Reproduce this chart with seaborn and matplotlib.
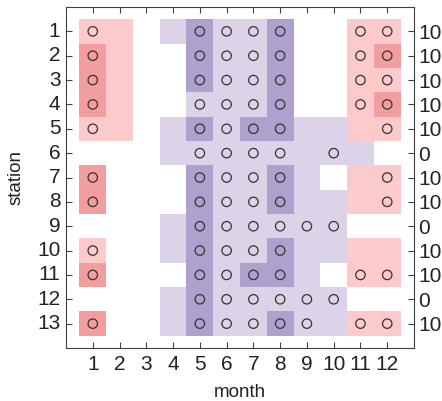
import numpy as np
import pandas as pd
import matplotlib
matplotlib.use("Agg")
import matplotlib.pyplot as plt
import seaborn as sns
from matplotlib.colors import ListedColormap

months = list(range(1, 13))
stations = list(range(1, 14))

# -2 dark pink, -1 light pink, 0 white, 1 light purple, 2 dark purple
levels = [
    [-1, -1, 0, 1, 2, 1, 1, 2, 0, 0, -1, -1],
    [-2, -1, 0, 0, 2, 1, 1, 2, 0, 0, -1, -2],
    [-2, -1, 0, 0, 2, 1, 1, 2, 0, 0, -1, -1],
    [-2, -1, 0, 0, 1, 1, 1, 2, 0, 0, -1, -2],
    [-1, -1, 0, 1, 2, 1, 2, 2, 1, 1, -1, -1],
    [0, 0, 0, 1, 1, 1, 1, 1, 1, 1, 1, 0],
    [-2, 0, 0, 0, 2, 1, 1, 2, 1, 0, -1, -1],
    [-2, 0, 0, 0, 2, 1, 1, 2, 1, 1, -1, -1],
    [0, 0, 0, 1, 2, 1, 1, 1, 1, 1, 0, 0],
    [-1, 0, 0, 1, 2, 1, 1, 2, 1, 1, -1, -1],
    [-2, 0, 0, 0, 2, 1, 2, 2, 1, 0, -1, -1],
    [0, 0, 0, 1, 2, 1, 1, 1, 1, 1, 0, 0],
    [-2, 0, 0, 1, 2, 1, 1, 2, 1, 1, -1, -1],
]

circle_months = {
    1: [1, 5, 6, 7, 8, 11, 12],
    2: [1, 5, 6, 7, 8, 11, 12],
    3: [1, 5, 6, 7, 8, 11, 12],
    4: [1, 5, 6, 7, 8, 11, 12],
    5: [1, 5, 6, 7, 8, 12],
    6: [5, 6, 7, 8, 10],
    7: [1, 5, 6, 7, 8, 12],
    8: [1, 5, 6, 7, 8, 12],
    9: [5, 6, 7, 8, 9, 10],
    10: [1, 5, 6, 7, 8],
    11: [1, 5, 6, 7, 8, 11, 12],
    12: [5, 6, 7, 8, 9, 10],
    13: [1, 5, 6, 7, 8, 9, 11, 12],
}

# right-hand labels as visible in the reference (cropped at the figure edge there)
right_labels = ["10", "10", "10", "10", "10", "0", "10", "10",
                "0", "10", "10", "0", "10"]

plt.rcParams["font.family"] = ["Liberation Sans", "DejaVu Sans"]

fig = plt.figure(figsize=(4.42, 4.01), dpi=100)
ax = fig.add_axes([66 / 442, 1 - 348 / 401, 348 / 442, 341 / 401])

df = pd.DataFrame(levels, index=stations, columns=months)
cmap = ListedColormap(["#F29E9E", "#FCCACA", "#FFFFFF", "#DCD3E8", "#AFA0CE"])
sns.heatmap(df, ax=ax, cmap=cmap, vmin=-2.5, vmax=2.5, cbar=False, linewidths=0)

cx, cy = [], []
for st, ms in circle_months.items():
    for m in ms:
        cx.append(months.index(m) + 0.5)
        cy.append(stations.index(st) + 0.5)
circ = pd.DataFrame({"x": cx, "y": cy})
sns.scatterplot(data=circ, x="x", y="y", ax=ax, marker="o", s=46,
                facecolors="none", edgecolor="#333333", linewidth=0.9,
                legend=False)

ax.set_xlim(-0.5, 12.5)
ax.set_ylim(13.5, -0.5)

axis_color = "#404040"
for s in ax.spines.values():
    s.set_visible(True)
    s.set_color(axis_color)
    s.set_linewidth(0.8)

ax.set_xticks(np.arange(len(months)) + 0.5)
ax.set_xticklabels([str(m) for m in months], rotation=0)
ax.set_yticks(np.arange(len(stations)) + 0.5)
ax.set_yticklabels([str(s) for s in stations], rotation=0)
ax.tick_params(axis="both", direction="in", length=4, width=0.8,
               color=axis_color, labelsize=15, labelcolor="#222222",
               top=True, bottom=True, left=True, right=False)
ax.tick_params(axis="x", pad=5)
ax.tick_params(axis="y", pad=4)

ax.set_xlabel("month", fontsize=13.5, color="#222222", labelpad=7)
ax.set_ylabel("station", fontsize=13.5, color="#222222", labelpad=9)

ax2 = ax.twinx()
ax2.set_ylim(13.5, -0.5)
ax2.set_yticks(np.arange(len(stations)) + 0.5)
ax2.set_yticklabels(right_labels)
ax2.tick_params(axis="y", direction="in", length=4, width=0.8,
                color=axis_color, labelsize=15, labelcolor="#222222", pad=3)
for s in ax2.spines.values():
    s.set_visible(False)

fig.savefig("out.png", dpi=100)
